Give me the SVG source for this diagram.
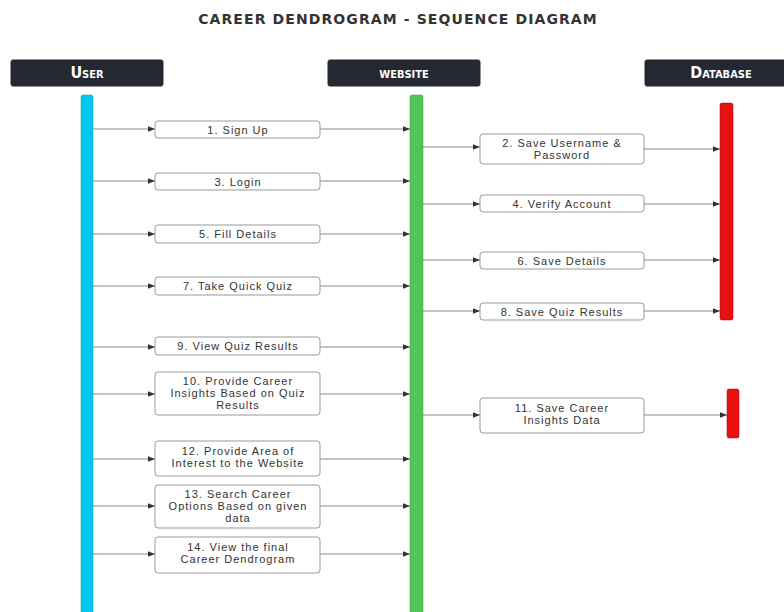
<svg xmlns="http://www.w3.org/2000/svg" width="784" height="612" viewBox="0 0 784 612">
<defs>
<marker id="ah" viewBox="0 0 10 10" refX="10" refY="5" markerWidth="10" markerHeight="7" markerUnits="userSpaceOnUse" orient="auto">
<path d="M0,1 L10,5 L0,9 z" fill="#333"/>
</marker>
<style>
.title{font-family:"DejaVu Sans",sans-serif;font-weight:bold;font-size:14px;fill:#333;letter-spacing:1.1px}
.hdr{fill:#242830;stroke:#242830}
.hdrt{font-family:"DejaVu Sans Condensed","DejaVu Sans",sans-serif;font-weight:bold;font-size:16px;fill:#fff;font-variant:small-caps;text-anchor:middle}
.box{fill:#fff;stroke:#999;stroke-width:1}
.lbl{font-family:"Liberation Sans",Arial,sans-serif;font-size:11px;fill:#333;text-anchor:middle;letter-spacing:1px}
.ln{stroke:#8a8a8a;stroke-width:1;fill:none;marker-end:url(#ah)}
</style>
</defs>
<rect width="784" height="612" fill="#fff"/>
<text class="title" x="398" y="24" text-anchor="middle">CAREER DENDROGRAM - SEQUENCE DIAGRAM</text>

<g id="user">
<rect class="hdr" x="11" y="60" width="152" height="26" rx="2"/>
<text class="hdrt" x="87" y="78">User</text>
<rect x="81" y="95" width="12" height="520" rx="2" fill="#00c8f0" stroke="#0aa" stroke-width="0.5"/>
</g>
<g id="website">
<rect class="hdr" x="328" y="60" width="152" height="26" rx="2"/>
<text class="hdrt" x="404" y="78">website</text>
<rect x="410" y="95" width="13" height="520" rx="2" fill="#52c45a" stroke="#3a3" stroke-width="0.5"/>
</g>
<g id="database">
<rect class="hdr" x="645" y="60" width="145" height="26" rx="2"/>
<text class="hdrt" x="721" y="78">Database</text>
<rect x="720" y="103" width="13" height="217" rx="2" fill="#e81010" stroke="#a00" stroke-width="0.5"/>
<rect x="727" y="389" width="12" height="49" rx="2" fill="#e81010" stroke="#a00" stroke-width="0.5"/>
</g>

<g id="connectors">
<path class="ln" d="M93,129 H155"/><path class="ln" d="M320,129 H410"/>
<path class="ln" d="M423,147 H480"/><path class="ln" d="M644,149 H720"/>
<path class="ln" d="M93,181 H155"/><path class="ln" d="M320,181 H410"/>
<path class="ln" d="M423,204 H480"/><path class="ln" d="M644,204 H720"/>
<path class="ln" d="M93,234 H155"/><path class="ln" d="M320,234 H410"/>
<path class="ln" d="M423,260 H480"/><path class="ln" d="M644,260 H720"/>
<path class="ln" d="M93,286 H155"/><path class="ln" d="M320,286 H410"/>
<path class="ln" d="M423,311 H480"/><path class="ln" d="M644,311 H720"/>
<path class="ln" d="M93,347 H155"/><path class="ln" d="M320,347 H410"/>
<path class="ln" d="M93,394 H155"/><path class="ln" d="M320,394 H410"/>
<path class="ln" d="M423,415 H480"/><path class="ln" d="M644,415 H727"/>
<path class="ln" d="M93,459 H155"/><path class="ln" d="M320,459 H410"/>
<path class="ln" d="M93,506 H155"/><path class="ln" d="M320,506 H410"/>
<path class="ln" d="M93,554 H155"/><path class="ln" d="M320,554 H410"/>
</g>

<g id="m1"><rect class="box" x="155" y="121" width="165" height="17" rx="3"/><text class="lbl" x="238" y="133.5">1. Sign Up</text></g>
<g id="m2"><rect class="box" x="480" y="134" width="164" height="30" rx="3"/><text class="lbl" x="562" y="147">2. Save Username &amp;</text><text class="lbl" x="562" y="159">Password</text></g>
<g id="m3"><rect class="box" x="155" y="173" width="165" height="17" rx="3"/><text class="lbl" x="238" y="185.5">3. Login</text></g>
<g id="m4"><rect class="box" x="480" y="195" width="164" height="17" rx="3"/><text class="lbl" x="562" y="207.5">4. Verify Account</text></g>
<g id="m5"><rect class="box" x="155" y="225" width="165" height="18" rx="3"/><text class="lbl" x="238" y="238">5. Fill Details</text></g>
<g id="m6"><rect class="box" x="480" y="252" width="164" height="17" rx="3"/><text class="lbl" x="562" y="264.5">6. Save Details</text></g>
<g id="m7"><rect class="box" x="155" y="277" width="165" height="18" rx="3"/><text class="lbl" x="238" y="290">7. Take Quick Quiz</text></g>
<g id="m8"><rect class="box" x="480" y="303" width="164" height="17" rx="3"/><text class="lbl" x="562" y="315.5">8. Save Quiz Results</text></g>
<g id="m9"><rect class="box" x="155" y="337" width="165" height="18" rx="3"/><text class="lbl" x="238" y="350">9. View Quiz Results</text></g>
<g id="m10"><rect class="box" x="155" y="372" width="165" height="43" rx="3"/><text class="lbl" x="238" y="385">10. Provide Career</text><text class="lbl" x="238" y="397">Insights Based on Quiz</text><text class="lbl" x="238" y="409">Results</text></g>
<g id="m11"><rect class="box" x="480" y="398" width="164" height="35" rx="3"/><text class="lbl" x="562" y="412">11. Save Career</text><text class="lbl" x="562" y="424">Insights Data</text></g>
<g id="m12"><rect class="box" x="155" y="441" width="165" height="35" rx="3"/><text class="lbl" x="238" y="455">12. Provide Area of</text><text class="lbl" x="238" y="467">Interest to the Website</text></g>
<g id="m13"><rect class="box" x="155" y="485" width="165" height="43" rx="3"/><text class="lbl" x="238" y="498">13. Search Career</text><text class="lbl" x="238" y="510">Options Based on given</text><text class="lbl" x="238" y="522">data</text></g>
<g id="m14"><rect class="box" x="155" y="537" width="165" height="36" rx="3"/><text class="lbl" x="238" y="551">14. View the final</text><text class="lbl" x="238" y="563">Career Dendrogram</text></g>
</svg>
